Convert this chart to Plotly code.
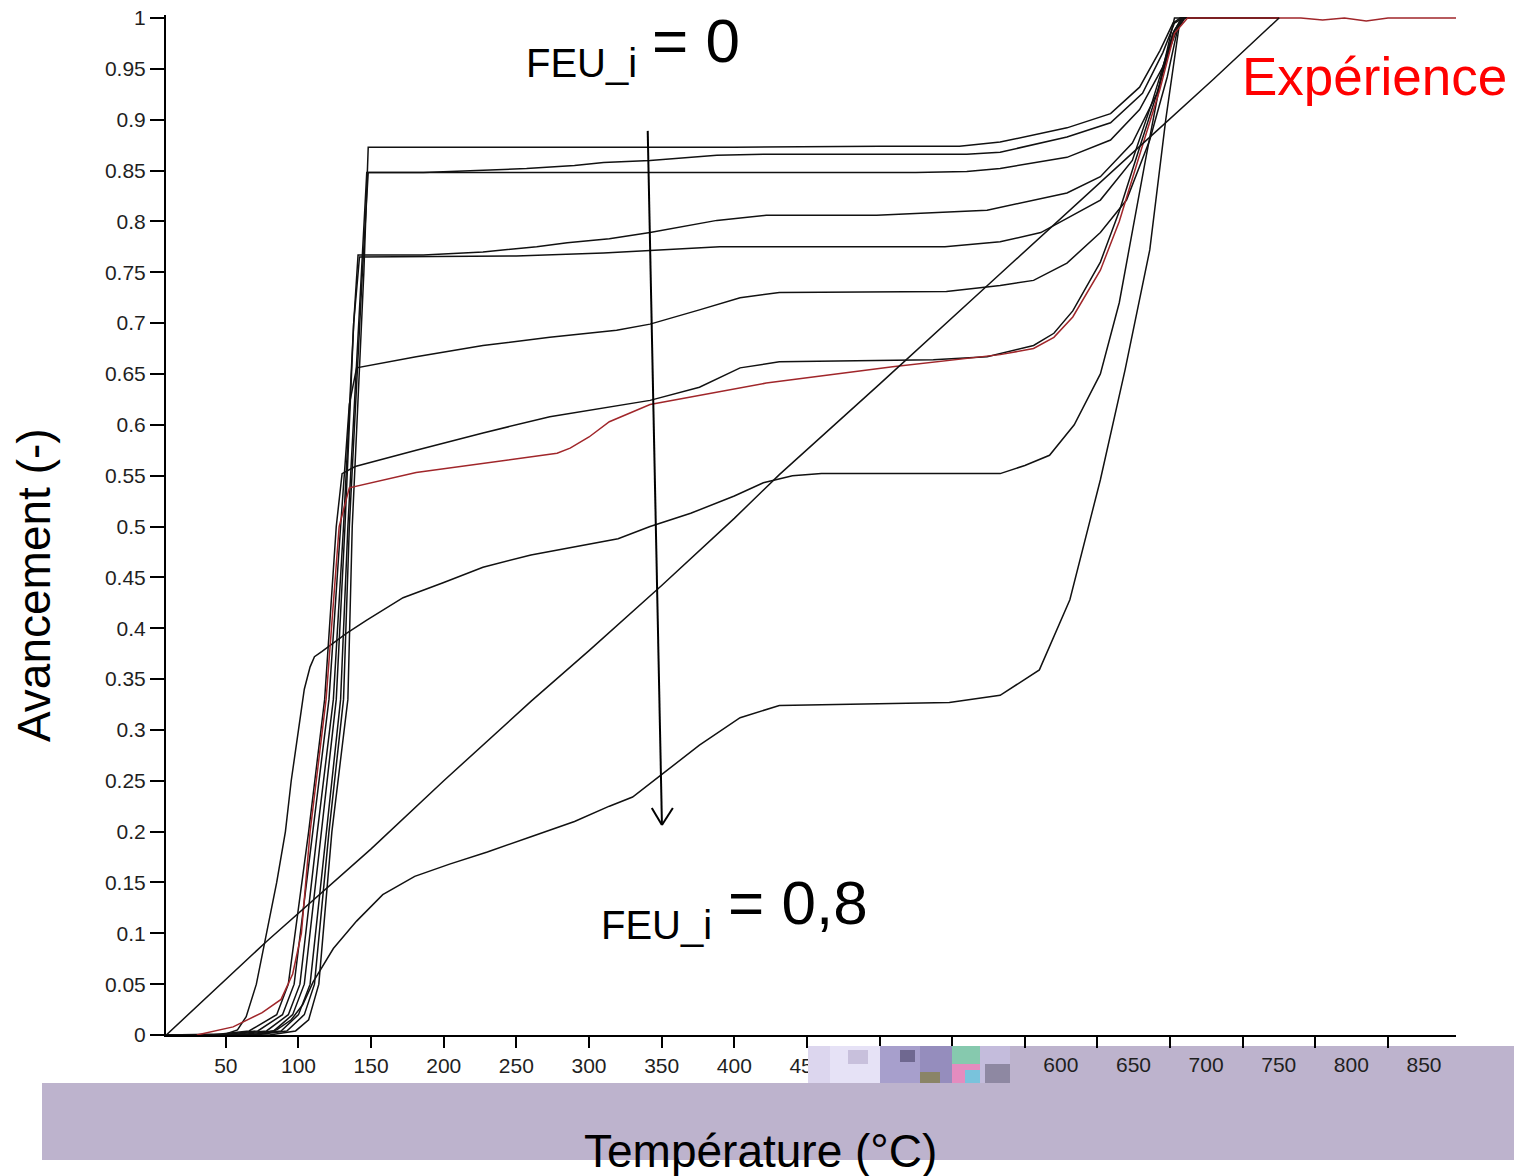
import plotly.graph_objects as go

# ---------------- data ----------------
# temperature (°C) / avancement (-) for each simulated curve
T_sim1 = [9, 80, 98, 107, 114, 123, 134, 137, 145, 148, 200, 300, 400, 500, 555, 583, 629, 659, 679, 693, 702, 707, 775]
A_sim1 = [0, 0, 0.004, 0.015, 0.05, 0.2, 0.33, 0.5, 0.75, 0.873, 0.873, 0.873, 0.873, 0.874, 0.874, 0.878, 0.892, 0.906, 0.932, 0.968, 0.995, 1.0, 1.0]

T_sim2 = [9, 70, 92, 104, 111, 121, 131, 135, 144, 148, 186, 222, 257, 290, 310, 342, 388, 420, 560, 583, 629, 659, 681, 695, 703, 709, 775]
A_sim2 = [0, 0, 0.004, 0.02, 0.05, 0.2, 0.33, 0.5, 0.75, 0.848, 0.848, 0.85, 0.852, 0.855, 0.858, 0.86, 0.865, 0.866, 0.866, 0.868, 0.883, 0.897, 0.926, 0.966, 0.995, 1.0, 1.0]

T_sim3 = [9, 65, 88, 100, 108, 119, 129, 134, 143, 147, 300, 525, 560, 583, 629, 659, 679, 695, 705, 710, 775]
A_sim3 = [0, 0, 0.004, 0.02, 0.05, 0.2, 0.33, 0.5, 0.75, 0.848, 0.848, 0.848, 0.849, 0.852, 0.863, 0.88, 0.91, 0.952, 0.99, 1.0, 1.0]

T_sim4 = [9, 58, 83, 96, 104, 116, 126, 132, 138, 141, 186, 227, 264, 285, 314, 342, 388, 422, 498, 574, 606, 629, 652, 674, 691, 702, 708, 775]
A_sim4 = [0, 0, 0.004, 0.02, 0.05, 0.2, 0.33, 0.5, 0.7, 0.767, 0.767, 0.770, 0.775, 0.779, 0.783, 0.789, 0.801, 0.806, 0.806, 0.811, 0.821, 0.828, 0.844, 0.877, 0.926, 0.985, 1.0, 1.0]

T_sim5 = [9, 52, 78, 93, 101, 113, 124, 131, 138, 142, 250, 310, 390, 545, 583, 611, 652, 674, 688, 702, 708, 775]
A_sim5 = [0, 0, 0.004, 0.02, 0.05, 0.2, 0.33, 0.5, 0.7, 0.765, 0.766, 0.769, 0.775, 0.775, 0.78, 0.789, 0.821, 0.86, 0.919, 0.985, 1.0, 1.0]

T_sim6 = [9, 46, 72, 89, 97, 110, 121, 129, 135, 140, 181, 227, 273, 319, 342, 376, 404, 431, 546, 583, 606, 629, 652, 670, 686, 698, 705, 710, 775]
A_sim6 = [0, 0, 0.004, 0.02, 0.05, 0.2, 0.33, 0.5, 0.62, 0.656, 0.667, 0.678, 0.686, 0.693, 0.699, 0.713, 0.725, 0.73, 0.731, 0.737, 0.742, 0.759, 0.789, 0.821, 0.88, 0.942, 0.988, 1.0, 1.0]

T_sim7 = [9, 40, 66, 85, 93, 107, 118, 126, 130, 139, 181, 227, 273, 319, 342, 376, 404, 431, 537, 574, 606, 620, 633, 652, 665, 680, 693, 703, 709, 775]
A_sim7 = [0, 0, 0.004, 0.02, 0.05, 0.2, 0.33, 0.5, 0.552, 0.559, 0.575, 0.592, 0.608, 0.619, 0.624, 0.637, 0.656, 0.662, 0.664, 0.667, 0.678, 0.69, 0.712, 0.76, 0.81, 0.877, 0.935, 0.988, 1.0, 1.0]

T_sim8 = [9, 50, 58, 64, 71, 78, 85, 91, 95, 100, 104, 108, 111, 116, 133, 147, 172, 200, 227, 260, 290, 320, 342, 370, 400, 420, 440, 460, 583, 600, 617, 634, 652, 665, 683, 695, 703, 775]
A_sim8 = [0, 0.001, 0.005, 0.018, 0.05, 0.1, 0.15, 0.2, 0.25, 0.3, 0.34, 0.362, 0.372, 0.377, 0.395, 0.408, 0.43, 0.445, 0.46, 0.472, 0.48, 0.488, 0.5, 0.513, 0.53, 0.543, 0.55, 0.552, 0.552, 0.56, 0.57, 0.6, 0.65, 0.72, 0.86, 0.95, 1.0, 1.0]

T_sim9 = [9, 70, 85, 95, 103, 110, 124, 140, 158, 180, 204, 230, 260, 290, 314, 330, 349, 376, 404, 431, 548, 583, 610, 631, 652, 669, 686, 697, 707, 775]
A_sim9 = [0, 0, 0.005, 0.015, 0.03, 0.052, 0.085, 0.112, 0.138, 0.156, 0.168, 0.18, 0.195, 0.21, 0.225, 0.234, 0.255, 0.285, 0.312, 0.324, 0.327, 0.334, 0.359, 0.428, 0.546, 0.654, 0.772, 0.9, 1.0, 1.0]

T_diag = [9, 78, 150, 200, 260, 300, 350, 400, 431, 500, 572, 620, 680, 730, 775]
A_diag = [0, 0.092, 0.183, 0.25, 0.328, 0.378, 0.442, 0.508, 0.551, 0.64, 0.734, 0.797, 0.875, 0.94, 1.0]

T_exp = [30, 55, 75, 88, 96, 102, 108, 119, 128, 135, 181, 227, 278, 287, 300, 314, 342, 422, 509, 583, 606, 620, 633, 652, 665, 680, 693, 703, 712, 750, 790, 805, 820, 835, 850, 897]
A_exp = [0, 0.008, 0.022, 0.035, 0.06, 0.1, 0.2, 0.33, 0.5, 0.538, 0.553, 0.562, 0.572, 0.577, 0.588, 0.603, 0.62, 0.641, 0.657, 0.669, 0.675, 0.686, 0.706, 0.752, 0.8, 0.87, 0.93, 0.985, 1.0, 1.0, 1.0, 0.998, 1.0, 0.997, 1.0, 1.0]

x_ticks = [50, 100, 150, 200, 250, 300, 350, 400, 450, 500, 550, 600, 650, 700, 750, 800, 850]
x_tick_left = ["50", "100", "150", "200", "250", "300", "350", "400", "450", "", "", "", "", "", "", "", ""]
x_ticks_right = [600, 650, 700, 750, 800, 850]
x_tick_right_text = ["600", "650", "700", "750", "800", "850"]
y_ticks = [0, 0.05, 0.1, 0.15, 0.2, 0.25, 0.3, 0.35, 0.4, 0.45, 0.5, 0.55, 0.6, 0.65, 0.7, 0.75, 0.8, 0.85, 0.9, 0.95, 1]
y_tick_text = ["0", "0.05", "0.1", "0.15", "0.2", "0.25", "0.3", "0.35", "0.4", "0.45", "0.5",
               "0.55", "0.6", "0.65", "0.7", "0.75", "0.8", "0.85", "0.9", "0.95", "1"]

# ---------------- layout geometry ----------------
W, H = 1514, 1176
ML, MR, MT, MB = 166, 58, 15, 141
PW, PH = W - ML - MR, H - MT - MB
X_RANGE = [8.8, 896.8]
Y_RANGE = [0, 1.00295]
FONT = "Liberation Sans, Arial, sans-serif"


def pxx(x):
    return (x - ML) / PW


def pxy(y):
    return (H - MB - y) / PH


fig = go.Figure()

black_series = [(T_sim1, A_sim1), (T_sim2, A_sim2), (T_sim3, A_sim3), (T_sim4, A_sim4),
                (T_sim5, A_sim5), (T_sim6, A_sim6), (T_sim7, A_sim7), (T_sim8, A_sim8),
                (T_sim9, A_sim9)]
for i, (tx, ay) in enumerate(black_series):
    fig.add_trace(go.Scatter(x=tx, y=ay, mode="lines", name=f"sim{i+1}",
                             line=dict(color="#111111", width=1.5)))

fig.add_trace(go.Scatter(x=T_diag, y=A_diag, mode="lines", name="diag", xaxis="x2",
                         line=dict(color="#111111", width=1.5)))
fig.add_trace(go.Scatter(x=T_exp, y=A_exp, mode="lines", name="Expérience",
                         line=dict(color="#a0262a", width=1.5)))

# ---------------- decorative band (purple) ----------------
band = "rgb(189,179,205)"
shapes = [
    dict(type="rect", xref="paper", yref="paper", x0=pxx(42), x1=pxx(1514), y0=pxy(1160), y1=pxy(1083),
         fillcolor=band, line_width=0, layer="below"),
    dict(type="rect", xref="paper", yref="paper", x0=pxx(1010), x1=pxx(1514), y0=pxy(1083), y1=pxy(1046),
         fillcolor=band, line_width=0, layer="below"),
]
mosaic = [
    (808, 830, 1046, 1083, "#dcd6ee"),
    (830, 880, 1046, 1083, "#e6e2f6"),
    (848, 868, 1050, 1064, "#c8c0dc"),
    (880, 920, 1046, 1083, "#a79fcc"),
    (900, 915, 1050, 1062, "#6f6890"),
    (920, 952, 1046, 1083, "#958dbd"),
    (920, 940, 1072, 1083, "#8a8466"),
    (952, 980, 1046, 1064, "#86c9ae"),
    (952, 980, 1064, 1083, "#e48cbf"),
    (965, 985, 1070, 1083, "#79c3dc"),
    (980, 1010, 1046, 1083, "#c4bcdc"),
    (985, 1010, 1064, 1083, "#8e88a2"),
]
for x0, x1, y0, y1, c in mosaic:
    shapes.append(dict(type="rect", xref="paper", yref="paper", x0=pxx(x0), x1=pxx(x1),
                       y0=pxy(y1), y1=pxy(y0), fillcolor=c, line_width=0, layer="above"))

# arrow (FEU_i 0 -> 0,8)
arrow = dict(color="black", width=2)
shapes += [
    dict(type="line", xref="x", yref="y", x0=340.4, y0=0.889, x1=350.2, y1=0.2065, line=arrow),
    dict(type="line", xref="x", yref="y", x0=343.2, y0=0.2232, x1=350.2, y1=0.2065, line=arrow),
    dict(type="line", xref="x", yref="y", x0=357.7, y0=0.2232, x1=350.2, y1=0.2065, line=arrow),
]

annotations = [
    dict(text="FEU_i", x=pxx(581), y=pxy(63), xref="paper", yref="paper", showarrow=False,
         xanchor="center", yanchor="middle", font=dict(family=FONT, size=40, color="black")),
    dict(text="= 0", x=pxx(650), y=pxy(40), xref="paper", yref="paper", showarrow=False,
         xanchor="left", yanchor="middle", font=dict(family=FONT, size=62, color="black")),
    dict(text="FEU_i", x=pxx(656), y=pxy(925), xref="paper", yref="paper", showarrow=False,
         xanchor="center", yanchor="middle", font=dict(family=FONT, size=40, color="black")),
    dict(text="= 0,8", x=pxx(726), y=pxy(902), xref="paper", yref="paper", showarrow=False,
         xanchor="left", yanchor="middle", font=dict(family=FONT, size=62, color="black")),
    dict(text="Expérience", x=pxx(1240), y=pxy(76), xref="paper", yref="paper", showarrow=False,
         xanchor="left", yanchor="middle", font=dict(family=FONT, size=53, color="#ff0000")),
    dict(text="Température (°C)", x=pxx(760), y=pxy(1151), xref="paper", yref="paper", showarrow=False,
         xanchor="center", yanchor="middle", font=dict(family=FONT, size=46, color="black")),
    dict(text="Avancement (-)", x=pxx(34), y=pxy(585), xref="paper", yref="paper", showarrow=False,
         textangle=-90, xanchor="center", yanchor="middle", font=dict(family=FONT, size=46, color="black")),
]

tickfont = dict(family=FONT, size=21, color="#1f1f1f")
fig.update_layout(
    width=W, height=H,
    margin=dict(l=ML, r=MR, t=MT, b=MB, pad=0, autoexpand=False),
    paper_bgcolor="white", plot_bgcolor="white",
    showlegend=False,
    shapes=shapes, annotations=annotations,
    xaxis=dict(range=X_RANGE, tickvals=x_ticks, ticktext=x_tick_left, ticks="outside", ticklen=11,
               tickwidth=1.5, tickcolor="black", showline=True, linecolor="black", linewidth=2,
               showgrid=False, zeroline=False, tickfont=tickfont, automargin=False),
    xaxis2=dict(range=X_RANGE, overlaying="x", anchor="y", side="bottom", tickvals=x_ticks_right,
                ticktext=x_tick_right_text, ticks="outside", ticklen=11, tickcolor="rgba(0,0,0,0)",
                ticklabelshift=36, showline=False, showgrid=False, zeroline=False, tickfont=tickfont,
                automargin=False),
    yaxis=dict(range=Y_RANGE, tickvals=y_ticks, ticktext=y_tick_text, ticks="outside", ticklen=14,
               tickwidth=1.5, tickcolor="black", showline=True, linecolor="black", linewidth=2,
               showgrid=False, zeroline=False, tickfont=tickfont, automargin=False),
)

fig.write_html("out.html")
